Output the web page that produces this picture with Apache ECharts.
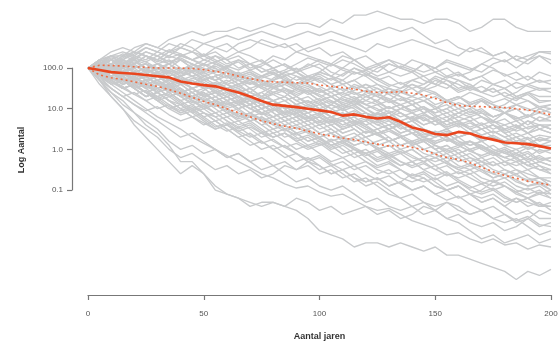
<!DOCTYPE html>
<html>
<head>
<meta charset="utf-8">
<script src="https://cdn.jsdelivr.net/npm/echarts@6/dist/echarts.min.js"></script>
<style>
  html, body { margin: 0; padding: 0; background: #fff; }
  #chart { width: 560px; height: 344px; }
</style>
</head>
<body>
<div id="chart"></div>
<script>
// years (x) and log10 of population size (y)
const years = [0,5,10,15,20,25,30,35,40,45,50,55,60,65,70,75,80,85,90,95,100,
  105,110,115,120,125,130,135,140,145,150,155,160,165,170,175,180,185,190,195,200]

const yTickValues = [-1, 0, 1, 2]
const yTickLabels = ['0.1', '1.0', '10.0', '100.0']

const median = [2.0,1.95,1.9,1.88,1.86,1.83,1.8,1.77,1.67,1.62,1.58,1.55,1.47,1.4,1.3,1.19,1.1,1.07,1.04,1.0,0.96,
  0.92,0.83,0.86,0.8,0.76,0.79,0.68,0.54,0.47,0.38,0.35,0.43,0.39,0.3,0.24,0.17,0.15,0.13,0.08,0.02]
const upperBand = [2.0,2.07,2.06,2.05,2.03,2.02,2.0,2.0,2.0,1.99,1.96,1.92,1.87,1.8,1.74,1.69,1.66,1.65,1.64,1.63,1.58,
  1.55,1.52,1.48,1.43,1.4,1.4,1.42,1.38,1.34,1.25,1.15,1.08,1.06,1.05,1.04,1.03,1.0,0.97,0.92,0.85]
const lowerBand = [2.0,1.83,1.76,1.72,1.66,1.6,1.55,1.47,1.38,1.28,1.18,1.1,1.0,0.9,0.8,0.7,0.63,0.57,0.52,0.45,0.38,
  0.33,0.28,0.24,0.18,0.13,0.08,0.1,0.05,-0.01,-0.12,-0.2,-0.25,-0.33,-0.44,-0.55,-0.64,-0.71,-0.78,-0.83,-0.88]

const greyRuns = [
  [2.0,2.2,2.3,2.3,2.5,2.6,2.5,2.7,2.8,2.9,2.8,2.9,2.9,3.0,2.9,3.0,3.1,3.0,3.1,3.1,3.0,3.2,3.1,3.3,3.3,3.4,3.3,3.2,3.2,3.1,3.2,3.2,3.1,2.9,3.0,3.2,3.2,3.0,2.9,2.9,2.9],
  [2.0,2.1,2.3,2.4,2.3,2.5,2.4,2.6,2.5,2.7,2.6,2.7,2.8,2.7,2.8,2.9,2.8,2.7,2.8,2.9,2.8,2.9,2.8,2.7,2.8,2.9,3.0,2.9,3.0,2.8,2.6,2.7,2.5,2.4,2.5,2.3,2.4,2.2,2.3,2.4,2.4],
  [2.0,2.2,2.1,2.3,2.4,2.3,2.2,2.4,2.5,2.4,2.6,2.5,2.4,2.6,2.7,2.6,2.5,2.6,2.4,2.5,2.6,2.7,2.6,2.5,2.4,2.6,2.5,2.6,2.7,2.6,2.5,2.4,2.3,2.5,2.4,2.3,2.4,2.2,2.1,2.3,2.2],
  [2.0,2.1,2.0,2.2,2.1,2.3,2.2,2.1,2.3,2.4,2.2,2.3,2.1,2.2,2.0,2.1,2.3,2.2,2.4,2.3,2.2,2.1,2.3,2.2,2.0,1.9,2.1,2.0,2.2,2.1,1.9,2.0,1.8,1.9,2.1,2.0,1.8,1.9,1.7,1.9,1.8],
  [2.0,1.9,2.1,2.2,2.0,2.1,1.9,2.0,1.8,1.9,1.7,1.8,1.9,1.7,1.6,1.8,1.7,1.9,2.0,1.8,1.9,2.1,2.0,2.2,2.3,2.1,2.2,2.0,1.9,2.1,2.0,1.8,1.9,1.7,1.8,1.6,1.7,1.5,1.6,1.7,1.6],
  [2.0,2.2,2.4,2.5,2.4,2.6,2.5,2.4,2.6,2.5,2.3,2.4,2.2,2.3,2.1,2.2,2.0,2.1,1.9,2.0,2.1,1.9,1.8,2.0,1.9,1.7,1.8,1.6,1.7,1.8,1.6,1.5,1.7,1.6,1.4,1.5,1.3,1.4,1.6,1.5,1.5],
  [2.0,2.1,1.9,2.0,2.2,2.1,2.0,1.8,1.9,2.0,1.8,1.7,1.9,1.8,1.6,1.7,1.5,1.6,1.8,1.7,1.9,1.8,1.6,1.7,1.5,1.6,1.4,1.5,1.7,1.6,1.8,1.7,1.5,1.6,1.4,1.5,1.3,1.2,1.4,1.3,1.3],
  [2.0,2.0,2.2,2.1,2.3,2.2,2.4,2.3,2.5,2.4,2.3,2.5,2.6,2.4,2.5,2.7,2.6,2.5,2.6,2.4,2.5,2.3,2.4,2.2,2.0,2.1,1.9,1.8,1.9,1.7,1.6,1.8,1.7,1.5,1.4,1.6,1.5,1.3,1.4,1.2,1.2],
  [2.0,1.9,1.8,2.0,1.9,1.7,1.8,1.6,1.7,1.5,1.6,1.4,1.5,1.3,1.4,1.6,1.5,1.7,1.6,1.4,1.5,1.3,1.4,1.6,1.5,1.3,1.2,1.4,1.3,1.5,1.4,1.2,1.3,1.1,1.2,1.0,1.1,1.3,1.2,1.0,1.1],
  [2.0,2.1,2.3,2.2,2.4,2.3,2.2,2.4,2.3,2.2,2.1,2.3,2.2,2.0,2.1,1.9,2.0,1.8,1.9,2.1,2.0,1.8,1.7,1.9,1.8,1.6,1.5,1.4,1.5,1.3,1.4,1.2,1.3,1.1,1.2,1.0,0.9,1.1,1.0,0.9,1.0],
  [2.0,1.9,2.0,1.8,1.9,1.7,1.8,1.9,1.7,1.6,1.8,1.7,1.5,1.6,1.4,1.3,1.5,1.4,1.2,1.3,1.1,1.2,1.0,1.1,1.3,1.2,1.4,1.3,1.1,1.2,1.0,1.1,0.9,1.0,1.2,1.1,0.9,1.0,0.8,1.0,0.9],
  [2.0,2.0,1.8,1.9,1.7,1.8,1.6,1.7,1.8,2.0,1.9,2.1,2.0,1.8,1.9,1.7,1.6,1.7,1.5,1.6,1.4,1.5,1.3,1.4,1.2,1.1,1.2,1.0,1.1,0.9,1.0,1.2,1.1,0.9,1.0,0.8,0.9,0.7,0.8,0.9,0.8],
  [2.0,1.8,1.7,1.5,1.6,1.4,1.3,1.4,1.2,1.3,1.1,1.2,1.0,1.1,1.3,1.2,1.4,1.3,1.5,1.4,1.2,1.3,1.1,1.2,1.0,1.1,0.9,1.0,1.1,0.9,1.0,0.8,0.9,1.0,0.8,0.7,0.9,0.8,0.6,0.8,0.7],
  [2.0,2.1,2.0,2.1,1.9,2.0,1.8,1.9,1.7,1.8,1.6,1.5,1.6,1.4,1.5,1.3,1.2,1.3,1.1,1.0,1.1,0.9,1.0,1.1,0.9,0.8,0.9,0.7,0.8,0.6,0.7,0.8,0.6,0.7,0.5,0.6,0.4,0.5,0.7,0.6,0.6],
  [2.0,1.9,1.7,1.8,1.6,1.7,1.5,1.6,1.4,1.5,1.3,1.4,1.5,1.3,1.2,1.0,1.1,0.9,1.0,0.8,0.9,1.1,1.0,1.2,1.1,1.0,0.8,0.9,0.7,0.8,0.6,0.7,0.9,0.8,0.6,0.7,0.5,0.6,0.4,0.6,0.5],
  [2.0,2.1,1.9,2.1,2.2,2.0,2.1,2.2,2.0,1.9,2.1,2.0,1.8,1.9,1.7,1.8,1.9,1.7,1.6,1.8,1.7,1.5,1.6,1.4,1.3,1.4,1.2,1.1,1.2,1.0,0.9,1.0,0.8,0.7,0.8,0.6,0.5,0.6,0.4,0.5,0.4],
  [2.0,1.8,1.9,1.7,1.8,1.6,1.7,1.5,1.4,1.5,1.3,1.4,1.2,1.3,1.1,1.2,1.0,0.9,1.0,0.8,0.9,0.7,0.8,0.6,0.7,0.9,0.8,1.0,0.9,0.7,0.8,0.6,0.7,0.5,0.6,0.4,0.5,0.3,0.4,0.2,0.3],
  [2.0,2.0,2.1,1.9,2.0,2.1,1.9,1.7,1.8,1.6,1.7,1.8,1.6,1.4,1.5,1.3,1.4,1.5,1.3,1.1,1.2,1.0,1.1,1.2,1.0,0.8,0.9,0.7,0.8,0.9,0.7,0.5,0.6,0.4,0.5,0.6,0.4,0.2,0.3,0.1,0.2],
  [2.0,1.8,1.6,1.7,1.5,1.3,1.4,1.2,1.1,1.2,1.0,1.1,1.2,1.0,1.1,1.3,1.2,1.0,1.1,0.9,1.0,0.8,0.7,0.8,0.6,0.7,0.5,0.6,0.7,0.5,0.4,0.5,0.3,0.4,0.5,0.3,0.2,0.3,0.1,0.3,0.2],
  [2.0,2.1,2.0,1.8,1.9,2.0,1.8,1.9,1.7,1.5,1.6,1.4,1.3,1.4,1.2,1.0,1.1,0.9,1.0,0.8,0.6,0.7,0.5,0.6,0.4,0.5,0.6,0.4,0.5,0.3,0.4,0.2,0.3,0.4,0.2,0.3,0.1,0.2,0.0,0.1,0.1],
  [2.0,1.9,1.8,1.9,1.7,1.8,1.6,1.4,1.5,1.3,1.4,1.2,1.3,1.1,1.2,1.0,1.1,1.2,1.0,0.9,1.0,0.8,0.9,0.7,0.8,0.6,0.5,0.6,0.4,0.3,0.4,0.2,0.3,0.1,0.2,0.3,0.1,0.0,0.1,-0.1,0.0],
  [2.0,2.2,2.1,2.3,2.2,2.0,2.1,1.9,2.0,1.8,1.7,1.8,1.6,1.5,1.3,1.4,1.2,1.3,1.1,1.2,1.0,0.9,1.0,0.8,0.9,0.7,0.8,0.6,0.7,0.5,0.4,0.5,0.3,0.4,0.2,0.3,0.1,0.2,0.0,0.1,0.0],
  [2.0,1.9,2.0,1.8,1.6,1.7,1.5,1.6,1.7,1.5,1.3,1.4,1.2,1.0,1.1,0.9,0.8,0.9,0.7,0.8,0.6,0.7,0.5,0.6,0.7,0.5,0.6,0.4,0.5,0.3,0.2,0.3,0.1,0.2,0.0,0.1,-0.1,0.0,-0.2,0.0,-0.1],
  [2.0,2.0,1.9,2.0,1.8,1.9,1.7,1.8,1.6,1.7,1.5,1.6,1.4,1.5,1.3,1.1,1.2,1.0,0.8,0.9,0.7,0.8,0.9,0.7,0.6,0.4,0.5,0.3,0.4,0.2,0.3,0.4,0.2,0.0,0.1,-0.1,0.0,-0.2,-0.1,-0.3,-0.2],
  [2.0,1.8,1.9,1.7,1.8,1.6,1.5,1.6,1.4,1.3,1.4,1.2,1.1,1.2,1.0,0.9,1.0,0.8,0.9,0.7,0.8,0.6,0.7,0.5,0.3,0.4,0.2,0.3,0.1,0.2,0.0,0.1,-0.1,0.0,0.1,-0.1,-0.2,-0.1,-0.3,-0.2,-0.3],
  [2.0,2.1,2.2,2.0,2.1,1.9,2.0,2.1,1.9,1.8,1.9,1.7,1.8,1.6,1.7,1.5,1.6,1.7,1.5,1.4,1.2,1.3,1.1,1.0,0.8,0.9,0.7,0.5,0.6,0.4,0.3,0.4,0.2,0.1,0.2,0.0,-0.1,-0.2,-0.4,-0.3,-0.4],
  [2.0,1.9,1.7,1.8,1.6,1.4,1.5,1.3,1.4,1.2,1.0,1.1,0.9,1.0,0.8,0.9,0.7,0.8,0.6,0.7,0.8,0.6,0.4,0.5,0.3,0.4,0.2,0.3,0.4,0.2,0.0,0.1,-0.1,0.0,-0.2,-0.1,-0.3,-0.4,-0.3,-0.5,-0.5],
  [2.0,2.0,1.8,1.9,1.7,1.8,1.6,1.7,1.5,1.3,1.4,1.2,1.3,1.1,0.9,1.0,0.8,0.6,0.7,0.5,0.6,0.4,0.5,0.6,0.4,0.5,0.3,0.1,0.2,0.0,0.1,-0.1,0.0,-0.2,-0.3,-0.2,-0.4,-0.3,-0.5,-0.4,-0.6],
  [2.0,1.8,1.9,1.7,1.5,1.6,1.4,1.5,1.3,1.4,1.2,1.3,1.1,1.2,1.0,1.1,0.9,0.7,0.8,0.6,0.4,0.5,0.3,0.2,0.3,0.1,0.2,0.0,0.1,-0.1,-0.2,-0.1,-0.3,-0.2,-0.4,-0.3,-0.5,-0.6,-0.5,-0.7,-0.7],
  [2.0,1.9,1.8,1.6,1.7,1.5,1.3,1.4,1.2,1.0,1.1,0.9,1.0,0.8,0.9,0.7,0.5,0.6,0.4,0.5,0.3,0.4,0.2,0.3,0.1,0.2,0.3,0.1,0.2,0.0,-0.1,0.0,-0.2,-0.1,-0.3,-0.4,-0.3,-0.5,-0.6,-0.7,-0.8],
  [2.0,2.1,1.9,1.7,1.8,1.6,1.4,1.5,1.3,1.1,1.2,1.0,0.8,0.9,0.7,0.8,0.6,0.7,0.5,0.6,0.4,0.2,0.3,0.1,0.2,0.0,0.1,-0.1,0.0,-0.2,-0.1,-0.3,-0.2,-0.4,-0.3,-0.5,-0.6,-0.5,-0.7,-0.8,-0.9],
  [2.0,1.7,1.5,1.3,1.4,1.2,1.0,1.1,0.9,1.0,0.8,0.9,0.7,0.5,0.6,0.4,0.5,0.3,0.4,0.2,0.3,0.1,0.2,0.0,-0.1,0.0,-0.2,-0.1,-0.3,-0.2,-0.4,-0.3,-0.5,-0.6,-0.5,-0.7,-0.6,-0.8,-0.9,-0.8,-1.0],
  [2.0,1.9,1.7,1.8,1.6,1.7,1.5,1.3,1.4,1.2,1.3,1.1,0.9,0.7,0.8,0.6,0.4,0.5,0.3,0.1,0.2,0.0,0.1,-0.1,0.0,-0.2,-0.1,-0.3,-0.4,-0.3,-0.5,-0.4,-0.6,-0.5,-0.7,-0.8,-0.7,-0.9,-1.0,-0.9,-1.1],
  [2.0,1.8,1.6,1.7,1.5,1.3,1.4,1.2,1.0,1.1,0.9,0.7,0.8,0.6,0.7,0.5,0.3,0.4,0.2,0.3,0.1,0.2,0.0,-0.2,-0.1,-0.3,-0.2,-0.4,-0.3,-0.5,-0.4,-0.6,-0.7,-0.6,-0.8,-0.9,-0.8,-1.0,-1.1,-1.0,-1.2],
  [2.0,1.7,1.4,1.2,0.9,0.7,0.5,0.2,0.0,0.1,-0.1,0.0,-0.2,-0.1,-0.3,-0.2,-0.4,-0.3,-0.5,-0.4,-0.6,-0.5,-0.7,-0.6,-0.8,-0.7,-0.9,-0.8,-1.0,-0.9,-1.1,-1.0,-1.2,-1.1,-1.3,-1.2,-1.4,-1.2,-1.3,-1.4,-1.3],
  [2.0,1.9,1.7,1.5,1.6,1.4,1.2,1.3,1.1,0.9,1.0,0.8,0.6,0.7,0.5,0.3,0.4,0.2,0.0,0.1,-0.1,-0.3,-0.2,-0.4,-0.3,-0.5,-0.6,-0.5,-0.7,-0.8,-0.7,-0.9,-0.8,-1.0,-1.1,-1.0,-1.2,-1.3,-1.2,-1.4,-1.4],
  [2.0,1.8,1.9,1.7,1.5,1.3,1.4,1.2,1.0,0.8,0.9,0.7,0.5,0.3,0.4,0.2,0.0,0.1,-0.1,-0.3,-0.2,-0.4,-0.3,-0.5,-0.4,-0.6,-0.5,-0.7,-0.8,-0.7,-0.9,-1.0,-0.9,-1.1,-1.2,-1.1,-1.3,-1.2,-1.4,-1.3,-1.5],
  [2.0,1.7,1.4,1.1,0.9,0.6,0.4,0.1,-0.3,-0.3,-0.6,-1.0,-1.1,-1.2,-1.4,-1.3,-1.3,-1.4,-1.2,-1.3,-1.5,-1.4,-1.6,-1.5,-1.4,-1.6,-1.5,-1.7,-1.6,-1.4,-1.5,-1.3,-1.4,-1.6,-1.5,-1.7,-1.6,-1.8,-1.7,-1.5,-1.6],
  [2.0,1.7,1.3,1.0,0.6,0.3,0.0,-0.3,-0.6,-0.4,-0.6,-0.9,-1.1,-1.2,-1.3,-1.4,-1.3,-1.4,-1.5,-1.7,-2.0,-2.1,-2.2,-2.4,-2.3,-2.3,-2.4,-2.3,-2.4,-2.5,-2.4,-2.6,-2.6,-2.7,-2.8,-2.9,-3.0,-3.2,-3.0,-3.1,-2.95],
  [2.0,1.8,1.5,1.3,1.1,0.9,0.7,0.5,0.3,0.4,0.2,0.0,-0.2,-0.1,-0.3,-0.5,-0.4,-0.6,-0.8,-0.7,-0.9,-1.0,-0.9,-1.1,-1.3,-1.2,-1.4,-1.5,-1.4,-1.6,-1.5,-1.7,-1.6,-1.8,-1.9,-1.8,-2.0,-1.9,-1.7,-1.9,-1.8],
  [2.0,1.9,1.7,1.5,1.6,1.4,1.2,1.0,1.1,0.9,0.7,0.5,0.6,0.4,0.2,0.0,0.1,-0.1,-0.3,-0.2,-0.4,-0.6,-0.5,-0.7,-0.9,-0.8,-1.0,-1.2,-1.1,-1.3,-1.4,-1.3,-1.5,-1.6,-1.5,-1.7,-1.8,-1.7,-1.9,-2.1,-2.0],
  [2.0,1.8,1.9,1.7,1.5,1.3,1.4,1.2,1.0,0.8,0.6,0.7,0.5,0.3,0.1,0.2,0.0,-0.2,-0.1,-0.3,-0.5,-0.4,-0.6,-0.8,-0.7,-0.9,-1.1,-1.2,-1.4,-1.3,-1.5,-1.7,-1.8,-2.0,-2.2,-2.1,-2.3,-2.2,-2.1,-2.3,-2.2],
  [2.0,1.6,1.3,1.0,0.7,0.5,0.3,0.0,-0.2,-0.1,-0.3,-0.5,-0.4,-0.6,-0.5,-0.7,-0.6,-0.4,-0.5,-0.3,-0.4,-0.6,-0.5,-0.7,-0.8,-0.7,-0.9,-0.8,-0.6,-0.7,-0.9,-1.0,-0.9,-1.1,-1.0,-0.8,-0.9,-1.1,-1.2,-1.1,-1.0],
  [2.0,2.1,2.2,2.0,2.1,2.3,2.1,2.0,2.2,2.1,1.9,2.0,1.8,1.7,1.8,1.6,1.7,1.5,1.4,1.5,1.3,1.4,1.2,1.3,1.1,1.2,1.0,1.1,0.9,1.0,0.8,0.9,0.7,0.8,0.9,0.7,0.6,0.7,0.5,0.6,0.5],
  [2.0,1.9,2.0,1.8,1.9,1.7,1.8,1.6,1.4,1.5,1.3,1.4,1.2,1.3,1.1,0.9,1.0,0.8,0.9,0.7,0.5,0.6,0.4,0.5,0.3,0.4,0.2,0.3,0.1,0.2,0.0,-0.2,-0.1,-0.3,-0.2,-0.4,-0.3,-0.2,-0.4,-0.3,-0.4],
  [2.0,1.9,1.8,1.9,1.7,1.8,1.6,1.5,1.6,1.4,1.5,1.3,1.4,1.2,1.3,1.1,1.2,1.0,1.1,1.2,1.0,1.1,1.3,1.2,1.4,1.3,1.5,1.4,1.6,1.5,1.7,1.6,1.4,1.5,1.7,1.6,1.5,1.3,1.4,1.5,1.4],
  [2.0,2.0,2.1,1.9,2.0,1.8,1.9,1.7,1.8,1.9,1.7,1.8,1.6,1.7,1.5,1.6,1.7,1.8,1.6,1.7,1.9,1.8,2.0,1.9,1.8,2.0,2.1,2.0,1.9,2.1,2.0,2.2,2.1,2.0,1.9,2.1,2.2,2.0,2.2,2.3,2.1],
  [2.0,2.1,1.9,2.0,1.8,1.6,1.7,1.5,1.6,1.4,1.2,1.3,1.1,1.2,1.0,1.1,0.9,0.7,0.8,0.6,0.7,0.5,0.3,0.4,0.2,0.0,0.1,-0.1,0.0,-0.2,-0.3,-0.2,-0.4,-0.5,-0.4,-0.6,-0.7,-0.6,-0.8,-0.7,-0.9],
  [2.0,2.2,2.3,2.1,2.2,2.4,2.3,2.1,2.2,2.0,2.1,1.9,2.0,2.2,2.1,1.9,2.0,1.8,1.9,1.7,1.8,1.6,1.7,1.5,1.6,1.4,1.5,1.3,1.2,1.3,1.1,1.2,1.0,1.1,1.2,1.0,0.9,1.0,0.8,1.0,0.9],
  [2.0,1.9,1.8,1.6,1.7,1.5,1.6,1.4,1.5,1.3,1.1,1.2,1.0,0.8,0.9,0.7,0.5,0.6,0.4,0.2,0.3,0.1,-0.1,0.0,-0.2,-0.4,-0.3,-0.5,-0.7,-0.6,-0.8,-1.0,-0.9,-1.1,-1.3,-1.2,-1.4,-1.6,-1.5,-1.7,-1.7],
  [2.0,2.15,2.05,2.25,2.4,2.3,2.15,2.3,2.2,2.0,1.85,1.95,1.8,1.6,1.7,1.55,1.75,1.9,1.8,1.6,1.45,1.3,1.4,1.25,1.35,1.15,1.0,1.1,0.95,1.05,0.85,0.7,0.8,0.95,0.8,0.65,0.75,0.55,0.7,0.5,0.6],
  [2.0,1.85,1.95,1.75,1.55,1.65,1.8,1.65,1.45,1.3,1.45,1.6,1.45,1.25,1.1,1.2,1.05,0.85,0.95,1.1,0.95,0.8,0.6,0.7,0.55,0.4,0.5,0.65,0.5,0.3,0.15,0.25,0.1,0.2,0.05,-0.1,0.0,-0.15,-0.05,-0.25,-0.2],
  [2.0,2.1,2.25,2.15,2.0,2.1,1.95,2.1,2.3,2.2,2.35,2.2,2.05,2.15,1.95,2.05,2.2,2.05,1.9,1.75,1.85,1.7,1.85,2.0,1.85,1.7,1.55,1.65,1.5,1.6,1.75,1.6,1.45,1.55,1.4,1.3,1.4,1.25,1.35,1.15,1.2],
  [2.0,1.8,1.65,1.75,1.55,1.4,1.25,1.35,1.15,0.95,1.05,0.9,0.7,0.55,0.65,0.45,0.3,0.4,0.2,0.05,0.15,-0.05,-0.2,-0.1,-0.3,-0.45,-0.35,-0.5,-0.65,-0.55,-0.75,-0.6,-0.8,-0.95,-0.85,-1.0,-0.9,-1.05,-1.2,-1.05,-1.1],
  [2.0,1.9,2.05,1.95,1.8,1.95,1.85,1.7,1.6,1.75,1.65,1.5,1.35,1.45,1.3,1.4,1.55,1.4,1.2,1.05,1.15,1.0,0.85,0.95,0.8,0.9,1.05,0.9,0.75,0.6,0.7,0.55,0.65,0.5,0.35,0.45,0.3,0.4,0.25,0.35,0.3],
  [2.0,2.05,1.95,2.1,2.25,2.15,2.3,2.45,2.35,2.2,2.3,2.15,2.25,2.4,2.3,2.15,2.0,2.1,1.95,2.05,2.2,2.1,1.95,1.85,1.95,1.8,1.9,2.05,1.95,1.8,1.9,1.75,1.85,1.7,1.8,1.95,1.85,1.7,1.8,1.65,1.7],
  [2.0,2.1,2.2,2.05,2.15,2.0,1.85,1.95,1.8,1.9,1.75,1.6,1.7,1.55,1.65,1.5,1.35,1.45,1.3,1.15,1.25,1.1,0.95,1.05,0.9,0.75,0.6,0.7,0.5,0.35,0.45,0.3,0.15,0.2,0.0,-0.15,-0.05,-0.25,-0.4,-0.5,-0.6],
  [2.0,1.85,1.7,1.5,1.6,1.4,1.2,1.0,0.85,0.95,0.75,0.55,0.65,0.45,0.3,0.4,0.2,0.05,0.15,0.0,0.1,0.25,0.15,0.3,0.45,0.35,0.2,0.3,0.15,0.25,0.1,-0.05,0.05,0.2,0.1,-0.05,0.05,-0.1,0.05,-0.05,0.0],
  [2.0,1.9,1.75,1.85,1.7,1.55,1.65,1.5,1.3,1.4,1.2,1.05,1.15,0.95,0.8,0.6,0.7,0.5,0.35,0.45,0.25,0.1,0.2,0.0,-0.15,-0.05,-0.25,-0.4,-0.3,-0.5,-0.65,-0.55,-0.75,-0.9,-1.05,-0.95,-1.15,-1.3,-1.2,-1.35,-1.4],
  [2.0,2.1,2.0,1.9,2.05,1.95,2.1,2.0,1.85,1.95,1.8,1.9,2.05,1.95,2.1,2.0,1.85,1.95,2.1,2.25,2.15,2.05,2.2,2.1,1.95,2.05,2.2,2.1,2.0,1.9,2.0,2.15,2.05,1.95,2.1,2.25,2.15,2.3,2.2,2.4,2.35],
  [2.0,1.95,1.8,1.9,1.75,1.85,2.0,1.9,1.75,1.6,1.7,1.55,1.65,1.8,1.7,1.55,1.4,1.5,1.35,1.45,1.3,1.15,1.25,1.1,1.2,1.35,1.25,1.1,0.95,1.05,0.9,1.0,1.15,1.05,0.9,0.8,0.9,0.75,0.85,0.7,0.8],
  [2.0,1.9,1.8,1.65,1.75,1.6,1.45,1.55,1.4,1.25,1.35,1.2,1.05,1.15,1.0,0.85,0.95,1.1,0.95,0.8,0.65,0.75,0.6,0.7,0.55,0.4,0.5,0.35,0.2,0.3,0.15,0.25,0.1,-0.05,0.05,-0.1,-0.2,-0.1,-0.25,-0.15,-0.3],
  [2.0,2.05,2.2,2.1,2.25,2.15,2.0,2.1,1.95,2.05,2.2,2.1,1.95,1.8,1.9,1.75,1.85,1.7,1.55,1.65,1.75,1.6,1.45,1.55,1.4,1.5,1.35,1.2,1.3,1.45,1.35,1.2,1.3,1.15,1.25,1.1,1.0,1.1,0.95,1.05,1.0],
  [2.0,1.75,1.5,1.3,1.1,0.95,1.05,0.85,0.7,0.8,0.65,0.5,0.6,0.45,0.55,0.4,0.3,0.4,0.25,0.35,0.2,0.05,0.15,0.0,-0.1,0.0,-0.15,-0.05,-0.2,-0.3,-0.2,-0.35,-0.45,-0.35,-0.5,-0.6,-0.5,-0.65,-0.75,-0.7,-0.8],
  [2.0,2.1,1.95,2.05,1.9,1.75,1.85,1.7,1.8,1.65,1.5,1.6,1.45,1.55,1.4,1.25,1.35,1.2,1.3,1.45,1.35,1.2,1.05,1.15,1.0,0.85,0.95,0.8,0.9,0.75,0.6,0.7,0.55,0.65,0.5,0.6,0.45,0.55,0.4,0.5,0.4],
  [2.0,1.85,1.7,1.55,1.35,1.45,1.25,1.05,0.9,1.0,0.8,0.6,0.45,0.55,0.35,0.15,0.25,0.05,-0.1,-0.25,-0.15,-0.35,-0.5,-0.4,-0.6,-0.75,-0.65,-0.85,-1.0,-0.9,-1.1,-1.25,-1.15,-1.35,-1.5,-1.4,-1.6,-1.75,-1.65,-1.85,-1.9],
  [2.0,1.9,2.0,2.15,2.05,1.9,2.0,1.85,1.95,2.1,2.0,1.85,1.75,1.85,1.7,1.8,1.95,1.85,1.7,1.8,1.65,1.75,1.6,1.7,1.85,1.75,1.6,1.5,1.6,1.45,1.55,1.7,1.6,1.45,1.55,1.4,1.5,1.65,1.55,1.45,1.5],
  [2.0,2.1,2.2,2.35,2.25,2.4,2.3,2.15,2.25,2.1,1.95,2.05,1.9,1.75,1.85,1.7,1.55,1.65,1.5,1.35,1.45,1.3,1.15,1.25,1.1,0.95,1.05,0.9,0.75,0.85,0.7,0.55,0.65,0.5,0.35,0.45,0.3,0.15,0.25,0.05,0.1],
  [2.0,1.9,1.75,1.6,1.7,1.55,1.4,1.5,1.35,1.2,1.05,1.15,1.0,0.85,0.7,0.8,0.65,0.5,0.6,0.45,0.3,0.4,0.25,0.1,0.2,0.05,-0.1,0.0,-0.15,-0.3,-0.2,-0.35,-0.5,-0.4,-0.55,-0.7,-0.6,-0.75,-0.9,-0.85,-1.0],
  [2.0,1.8,1.6,1.4,1.2,1.0,0.8,0.65,0.5,0.3,0.15,0.0,-0.15,-0.3,-0.45,-0.6,-0.7,-0.85,-0.95,-0.9,-1.05,-1.15,-1.1,-1.25,-1.4,-1.5,-1.45,-1.6,-1.75,-1.85,-1.95,-2.1,-2.05,-2.2,-2.3,-2.2,-2.35,-2.3,-2.45,-2.35,-2.4],
  [2.0,1.85,1.65,1.5,1.35,1.2,1.3,1.1,0.95,1.05,0.9,0.8,0.9,0.75,0.85,0.7,0.8,0.95,0.85,0.7,0.8,0.65,0.75,0.9,0.8,0.65,0.75,0.6,0.7,0.85,0.75,0.6,0.7,0.55,0.65,0.5,0.6,0.45,0.55,0.6,0.5],
  [2.0,2.0,1.9,2.05,1.95,1.8,1.9,1.75,1.6,1.7,1.55,1.65,1.5,1.6,1.75,1.65,1.5,1.6,1.45,1.55,1.4,1.5,1.35,1.45,1.6,1.5,1.35,1.45,1.3,1.2,1.3,1.15,1.25,1.4,1.3,1.15,1.25,1.1,1.2,1.05,1.1],
  [2.0,1.95,2.05,1.9,1.75,1.85,1.7,1.55,1.65,1.5,1.35,1.45,1.3,1.15,1.25,1.1,0.95,1.05,0.9,0.75,0.85,0.7,0.55,0.65,0.5,0.35,0.45,0.3,0.15,0.25,0.1,0.0,0.1,-0.05,-0.15,-0.05,-0.2,-0.3,-0.2,-0.4,-0.5],
  [2.0,1.9,1.8,1.9,1.75,1.6,1.7,1.55,1.4,1.5,1.6,1.45,1.3,1.4,1.25,1.1,1.2,1.05,0.9,1.0,0.85,0.95,0.8,0.65,0.75,0.6,0.7,0.55,0.4,0.5,0.35,0.45,0.3,0.4,0.25,0.35,0.2,0.3,0.15,0.25,0.2],
  [2.0,1.85,1.95,1.8,1.65,1.5,1.6,1.45,1.3,1.15,1.25,1.1,0.95,0.8,0.9,0.75,0.6,0.45,0.55,0.4,0.25,0.1,0.2,0.05,-0.1,-0.25,-0.15,-0.3,-0.45,-0.35,-0.5,-0.65,-0.55,-0.7,-0.85,-0.75,-0.9,-1.05,-0.95,-1.1,-1.2],
  [2.0,2.15,2.3,2.2,2.35,2.5,2.4,2.25,2.35,2.2,2.05,2.15,2.0,1.85,1.95,1.8,1.9,1.75,1.6,1.7,1.55,1.4,1.5,1.35,1.45,1.3,1.15,1.25,1.1,1.2,1.05,0.9,1.0,0.85,0.95,0.8,0.9,0.75,0.85,0.7,0.7]
]

const axisColor = '#777'
const labelStyle = { color: '#555', fontSize: 8, fontFamily: 'Liberation Sans, Arial, sans-serif' }
const titleStyle = { color: '#333', fontSize: 9, fontWeight: 'bold', fontFamily: 'Liberation Sans, Arial, sans-serif' }

const pairs = vals => vals.map((v, i) => [years[i], v])

const series = greyRuns.map(run => ({
  type: 'line',
  data: pairs(run),
  showSymbol: false,
  silent: true,
  lineStyle: { color: '#c8cacc', width: 1.35 }
}))

series.push(
  {
    name: 'upper',
    type: 'line',
    data: pairs(upperBand),
    showSymbol: false,
    lineStyle: { color: '#ef6c42', width: 1.6, type: [2, 3] }
  },
  {
    name: 'lower',
    type: 'line',
    data: pairs(lowerBand),
    showSymbol: false,
    lineStyle: { color: '#ef6c42', width: 1.6, type: [2, 3] }
  },
  {
    name: 'median',
    type: 'line',
    data: pairs(median),
    showSymbol: false,
    lineStyle: { color: '#e9461f', width: 2.6 }
  }
)

const option = {
  backgroundColor: '#fff',
  animation: false,
  grid: [
    // plotting area: x axis sits at its bottom edge
    { left: 88, right: 9, top: 5, bottom: 49, outerBoundsMode: 'none', containLabel: false },
    // y axis only spans the labelled decades (0.1 .. 100)
    { left: 72, width: 1, top: 68, bottom: 154, outerBoundsMode: 'none', containLabel: false }
  ],
  xAxis: [
    {
      gridIndex: 0,
      type: 'value',
      min: 0,
      max: 200,
      interval: 50,
      name: 'Aantal jaren',
      nameLocation: 'middle',
      nameGap: 37,
      nameTextStyle: titleStyle,
      axisLine: { onZero: false, lineStyle: { color: axisColor, width: 1.2 } },
      axisTick: { length: 5, lineStyle: { color: axisColor, width: 1.2 } },
      axisLabel: Object.assign({ margin: 15 }, labelStyle),
      splitLine: { show: false }
    },
    { gridIndex: 1, type: 'value', show: false }
  ],
  yAxis: [
    {
      gridIndex: 0,
      type: 'value',
      min: -3.58,
      max: 3.55,
      name: 'Log Aantal',
      nameLocation: 'middle',
      nameGap: 62,
      nameTextStyle: titleStyle,
      axisLine: { show: false },
      axisTick: { show: false },
      axisLabel: { show: false },
      splitLine: { show: false }
    },
    {
      gridIndex: 1,
      type: 'value',
      min: yTickValues[0],
      max: yTickValues[yTickValues.length - 1],
      interval: 1,
      axisLine: { lineStyle: { color: axisColor, width: 1.2 } },
      axisTick: { length: 5, lineStyle: { color: axisColor, width: 1.2 } },
      axisLabel: Object.assign({
        margin: 9,
        formatter: v => yTickLabels[yTickValues.indexOf(v)]
      }, labelStyle),
      splitLine: { show: false }
    }
  ],
  series: series
}

const chart = echarts.init(document.getElementById('chart'), null, { renderer: 'canvas' })
chart.setOption(option)
</script>
</body>
</html>
